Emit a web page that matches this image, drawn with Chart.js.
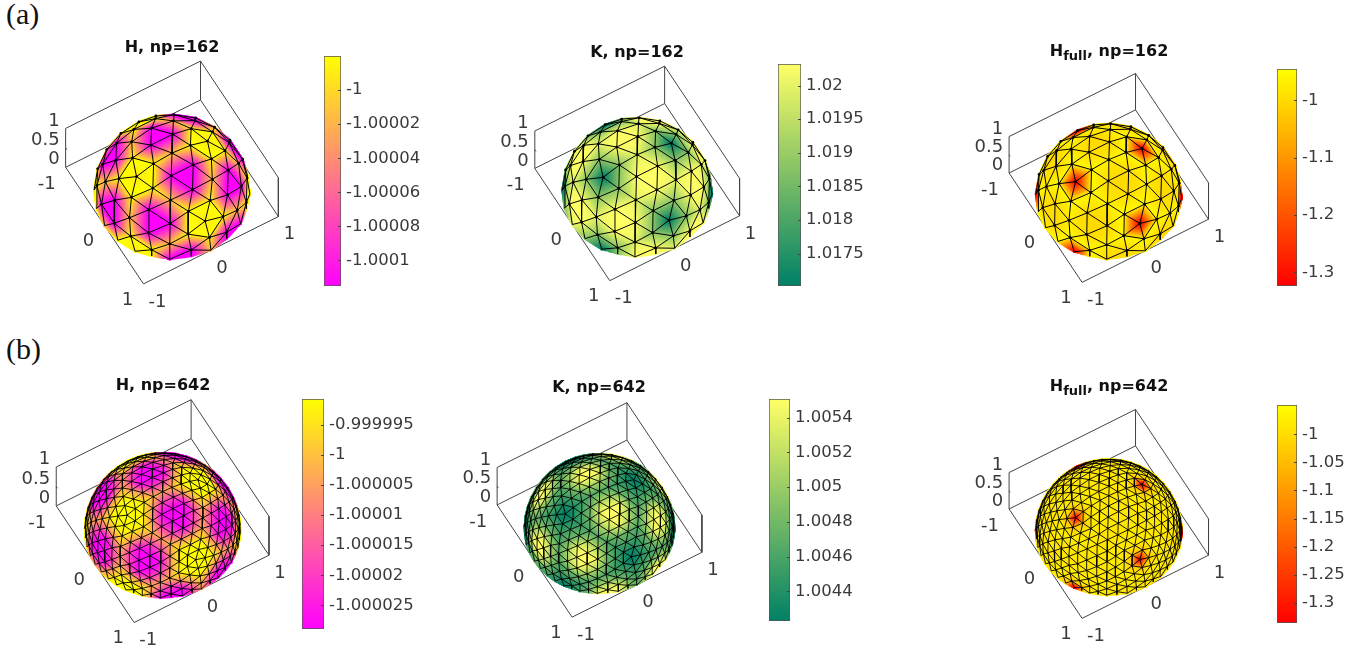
<!DOCTYPE html>
<html>
<head>
<meta charset="utf-8">
<script src="https://cdn.jsdelivr.net/npm/chart.js@4"></script>
<style>
html, body { margin: 0; padding: 0; background: #fff; }
body { position: relative; width: 1370px; height: 659px; overflow: hidden; }
canvas { position: absolute; }
.title { position: absolute; transform: translate(-50%, -50%); font: bold 16px "DejaVu Sans"; color: #111; white-space: nowrap; }
.title sub { font-size: 13px; line-height: 0; }
.tag { position: absolute; font: 30px "Liberation Serif"; color: #111; }
</style>
</head>
<body>
<div class="tag" style="left:6px;top:-3px">(a)</div>
<div class="tag" style="left:6px;top:332px">(b)</div>
<script>
// vertex classes of one icosahedron face, by sorted barycentric position
const classes162 = ['400', '310', '220', '211'];
const classes642 = ['800', '710', '620', '611', '530', '521', '440', '431', '422', '332'];

// values read at each vertex class
const valuesH162 = [-0.99999, -0.99998, -1.00001, -1.000115];
const valuesK162 = [1.01702, 1.0189, 1.02, 1.0203];
const valuesFull162 = [-1.324, -0.955, -0.975, -1.0];
const valuesH642 = [-0.99999, -0.99999, -0.999993, -0.999993, -1.0, -1.000006, -1.000004, -1.000018, -1.000027, -1.000029];
const valuesK642 = [1.00423, 1.0044, 1.00455, 1.0046, 1.00465, 1.0048, 1.0047, 1.0051, 1.0054, 1.0055];
const valuesFull642 = [-1.336, -1.03, -0.98, -0.98, -0.985, -0.98, -0.985, -0.985, -0.985, -0.985];

// colorbar limits and ticks
const rangeH162 = [-1.000115, -0.99998];
const rangeK162 = [1.01702, 1.02032];
const rangeFull162 = [-1.324, -0.945];
const rangeH642 = [-1.0000289, -0.99999075];
const rangeK642 = [1.004229, 1.005508];
const rangeFull642 = [-1.3362, -0.9477];

const ticksH162 = [-1, -1.00002, -1.00004, -1.00006, -1.00008, -1.0001];
const labelsH162 = ['-1', '-1.00002', '-1.00004', '-1.00006', '-1.00008', '-1.0001'];
const ticksK162 = [1.02, 1.0195, 1.019, 1.0185, 1.018, 1.0175];
const labelsK162 = ['1.02', '1.0195', '1.019', '1.0185', '1.018', '1.0175'];
const ticksFull162 = [-1, -1.1, -1.2, -1.3];
const labelsFull162 = ['-1', '-1.1', '-1.2', '-1.3'];
const ticksH642 = [-0.999995, -1, -1.000005, -1.00001, -1.000015, -1.00002, -1.000025];
const labelsH642 = ['-0.999995', '-1', '-1.000005', '-1.00001', '-1.000015', '-1.00002', '-1.000025'];
const ticksK642 = [1.0054, 1.0052, 1.005, 1.0048, 1.0046, 1.0044];
const labelsK642 = ['1.0054', '1.0052', '1.005', '1.0048', '1.0046', '1.0044'];
const ticksFull642 = [-1, -1.05, -1.1, -1.15, -1.2, -1.25, -1.3];
const labelsFull642 = ['-1', '-1.05', '-1.1', '-1.15', '-1.2', '-1.25', '-1.3'];

// axis ticks of the 3d box
const xyTicks = [-1, 0, 1];
const xyTickLabels = ['-1', '0', '1'];
const zTicks = [0, 0.5, 1];
const zTickLabels = ['0', '0.5', '1'];

// colormaps, low end then high end
const spring = [[255, 0, 255], [255, 255, 0]];
const summer = [[0, 128, 102], [255, 255, 102]];
const autumn = [[255, 0, 0], [255, 255, 0]];

// icosahedron
const icoVerts = [[-1,1.618,0],[1,1.618,0],[-1,-1.618,0],[1,-1.618,0],[0,-1,1.618],[0,1,1.618],[0,-1,-1.618],[0,1,-1.618],[1.618,0,-1],[1.618,0,1],[-1.618,0,-1],[-1.618,0,1]];
const icoFaces = [[0,11,5],[0,5,1],[0,1,7],[0,7,10],[0,10,11],[1,5,9],[5,11,4],[11,10,2],[10,7,6],[7,1,8],[3,9,4],[3,4,2],[3,2,6],[3,6,8],[3,8,9],[4,9,5],[2,4,11],[6,2,10],[8,6,7],[9,8,1]];

// view(60, 60)
const az = 60 * Math.PI / 180, el = 60 * Math.PI / 180;
const viewDir = [Math.sin(az) * Math.cos(el), -Math.cos(az) * Math.cos(el), Math.sin(el)];
const LEVELS = 64;

Chart.defaults.animation = false;
Chart.defaults.font.family = '"DejaVu Sans"';
Chart.defaults.responsive = false;

function project(p) {
  return {
    x: p[0] * Math.cos(az) + p[1] * Math.sin(az),
    y: -p[0] * Math.sin(az) * Math.sin(el) + p[1] * Math.cos(az) * Math.sin(el) + p[2] * Math.cos(el)
  };
}

function unit(p) {
  const n = Math.hypot(p[0], p[1], p[2]);
  return [p[0] / n, p[1] / n, p[2] / n];
}

function middle(a, b) {
  return {
    p: unit([a.p[0] + b.p[0], a.p[1] + b.p[1], a.p[2] + b.p[2]]),
    b: [(a.b[0] + b.b[0]) / 2, (a.b[1] + b.b[1]) / 2, (a.b[2] + b.b[2]) / 2]
  };
}

function meshFaces(depth) {
  const N = Math.pow(2, depth);
  let tris = icoFaces.map(f => [
    { p: unit(icoVerts[f[0]]), b: [N, 0, 0] },
    { p: unit(icoVerts[f[1]]), b: [0, N, 0] },
    { p: unit(icoVerts[f[2]]), b: [0, 0, N] }
  ]);
  for (let d = 0; d < depth; d++) {
    const next = [];
    tris.forEach(t => {
      const ab = middle(t[0], t[1]), bc = middle(t[1], t[2]), ca = middle(t[2], t[0]);
      next.push([t[0], ab, ca], [ab, t[1], bc], [ca, bc, t[2]], [ab, bc, ca]);
    });
    tris = next;
  }
  return tris;
}

function facesViewer(t) {
  const a = t[0].p, b = t[1].p, c = t[2].p;
  const u = [b[0] - a[0], b[1] - a[1], b[2] - a[2]], v = [c[0] - a[0], c[1] - a[1], c[2] - a[2]];
  const n = [u[1] * v[2] - u[2] * v[1], u[2] * v[0] - u[0] * v[2], u[0] * v[1] - u[1] * v[0]];
  const out = n[0] * (a[0] + b[0] + c[0]) + n[1] * (a[1] + b[1] + c[1]) + n[2] * (a[2] + b[2] + c[2]);
  const d = n[0] * viewDir[0] + n[1] * viewDir[1] + n[2] * viewDir[2];
  return out > 0 ? d > 0 : d < 0;
}

function levelColor(map, i) {
  const f = i / (LEVELS - 1);
  return 'rgb(' + [0, 1, 2].map(c => Math.round(map[0][c] + (map[1][c] - map[0][c]) * f)).join(',') + ')';
}

function sphereDatasets(cfg) {
  const tris = meshFaces(cfg.depth).filter(facesViewer);
  const lookup = {};
  cfg.classes.forEach((c, i) => { lookup[c] = cfg.values[i]; });
  const classOf = v => lookup[v.b.slice().sort((a, b) => b - a).join('')];
  const buckets = [];
  for (let i = 0; i < LEVELS; i++) buckets.push([]);
  const lines = [], dots = [], seen = {};
  const key = p => p.map(c => c.toFixed(4)).join(',');

  tris.forEach(t => {
    const va = classOf(t[0]), vb = classOf(t[1]), vc = classOf(t[2]);
    const edge = Math.max(
      Math.hypot(t[0].p[0] - t[1].p[0], t[0].p[1] - t[1].p[1], t[0].p[2] - t[1].p[2]),
      Math.hypot(t[1].p[0] - t[2].p[0], t[1].p[1] - t[2].p[1], t[1].p[2] - t[2].p[2]),
      Math.hypot(t[2].p[0] - t[0].p[0], t[2].p[1] - t[0].p[1], t[2].p[2] - t[0].p[2]));
    const n = Math.ceil(edge * cfg.s / 1.5);
    for (let i = 0; i <= n; i++) {
      for (let j = 0; j <= n - i; j++) {
        const a = i / n, b = j / n, c = 1 - a - b;
        const p = [0, 1, 2].map(k => a * t[0].p[k] + b * t[1].p[k] + c * t[2].p[k]);
        if (p[2] < 0) continue;
        const v = a * va + b * vb + c * vc;
        const lv = Math.max(0, Math.min(LEVELS - 1, Math.floor((v - cfg.range[0]) / (cfg.range[1] - cfg.range[0]) * LEVELS)));
        buckets[lv].push(project(p));
      }
    }
    [[0, 1], [1, 2], [2, 0]].forEach(e => {
      let a = t[e[0]].p, b = t[e[1]].p;
      const id = [key(a), key(b)].sort().join('|');
      // edges lying on the z=0 floor are not drawn in the picture
      if (seen[id] || Math.max(a[2], b[2]) < 1e-6) return;
      seen[id] = true;
      if (a[2] < 0 || b[2] < 0) {
        if (a[2] < 0) { const s = a; a = b; b = s; }
        const f = a[2] / (a[2] - b[2]);
        b = [a[0] + (b[0] - a[0]) * f, a[1] + (b[1] - a[1]) * f, 0];
      }
      lines.push(project(a), project(b), { x: null, y: null });
    });
    t.forEach(v => {
      if (v.p[2] > 1e-6 && !seen[key(v.p)]) { seen[key(v.p)] = true; dots.push(project(v.p)); }
    });
  });

  const sets = [];
  sets.push({ data: lines, showLine: true, borderColor: '#000', borderWidth: cfg.depth === 2 ? 1 : 0.9, pointRadius: 0, order: 0 });
  sets.push({ data: dots, showLine: false, backgroundColor: '#000', borderWidth: 0, pointRadius: cfg.depth === 2 ? 1.4 : 0.8, order: 0 });
  buckets.forEach((pts, i) => {
    if (!pts.length) return;
    sets.push({ data: pts, parsing: false, normalized: true, showLine: false, pointStyle: 'rect', pointRadius: 1.4, borderWidth: 0, backgroundColor: levelColor(cfg.map, i), order: 1 });
  });
  // back walls and floor of the box
  const corner = (x, y, z) => project([x, y, z]);
  const box = [
    corner(-1, -1, 0), corner(1, -1, 0), corner(1, 1, 0), corner(-1, 1, 0), corner(-1, -1, 0), corner(-1, -1, 1), corner(-1, 1, 1), corner(1, 1, 1), corner(1, 1, 0), { x: null, y: null },
    corner(-1, 1, 0), corner(-1, 1, 1), { x: null, y: null },
    corner(0, -1, 0), corner(0, -1, 0.04), { x: null, y: null },
    corner(1, 0, 0), corner(1, 0, 0.04), { x: null, y: null },
    corner(-1, -1, 0.5), corner(-0.97, -1, 0.5)
  ];
  sets.push({ data: box, showLine: true, borderColor: '#444', borderWidth: 1, pointRadius: 0, order: 2 });
  return sets;
}

// tick labels of the 3d axes, placed from the chart's scales
const boxLabels = {
  id: 'boxLabels',
  afterDatasetsDraw(chart) {
    const ctx = chart.ctx, sx = chart.scales.x, sy = chart.scales.y;
    const put = (text, p, dx, dy, align) => {
      const q = project(p);
      ctx.textAlign = align;
      ctx.fillText(text, sx.getPixelForValue(q.x) + dx, sy.getPixelForValue(q.y) + dy);
    };
    ctx.save();
    ctx.font = '18px "DejaVu Sans"';
    ctx.fillStyle = '#3a3a3a';
    ctx.textBaseline = 'middle';
    xyTicks.forEach((v, i) => {
      put(xyTickLabels[i], [v, -1, 0], v === -1 ? -19 : -16, v === -1 ? 17 : 16, 'center');
      put(xyTickLabels[i], [1, v, 0], v === -1 ? 14 : 11, 18, 'center');
    });
    zTicks.forEach((v, i) => {
      put(zTickLabels[i], [-1, -1, v], -6, -7.5, 'right');
    });
    ctx.restore();
  }
};

// small inward ticks on the colorbar
const barTicks = {
  id: 'barTicks',
  afterDatasetsDraw(chart) {
    const ctx = chart.ctx, s = chart.scales.y, right = chart.chartArea.right;
    ctx.save();
    ctx.strokeStyle = '#444';
    s.ticks.forEach(t => {
      const y = Math.round(s.getPixelForValue(t.value)) + 0.5;
      ctx.beginPath();
      ctx.moveTo(right - 3, y);
      ctx.lineTo(right, y);
      ctx.stroke();
    });
    ctx.restore();
  }
};

function addCanvas(left, top, w, h) {
  const c = document.createElement('canvas');
  c.width = w;
  c.height = h;
  c.style.left = left + 'px';
  c.style.top = top + 'px';
  document.body.appendChild(c);
  return c;
}

function drawSphere(cfg) {
  const left = Math.round(cfg.cx - 150), top = Math.round(cfg.cy - 145), w = 300, h = 285;
  new Chart(addCanvas(left, top, w, h), {
    type: 'scatter',
    data: { datasets: sphereDatasets(cfg) },
    options: {
      layout: { padding: 0 },
      plugins: { legend: { display: false }, tooltip: { enabled: false } },
      events: [],
      scales: {
        x: { type: 'linear', display: false, min: (left - cfg.cx) / cfg.s, max: (left + w - cfg.cx) / cfg.s },
        y: { type: 'linear', display: false, min: (cfg.cy - top - h) / cfg.s, max: (cfg.cy - top) / cfg.s }
      }
    },
    plugins: [boxLabels]
  });
}

function drawBar(cfg) {
  const pad = 12, textW = 100;
  const barW = cfg.bar[1] - cfg.bar[0], barH = cfg.bar[3] - cfg.bar[2];
  new Chart(addCanvas(cfg.bar[0], cfg.bar[2] - pad, barW + textW, barH + pad * 2), {
    type: 'bar',
    data: {
      labels: [''],
      datasets: [{
        data: [[cfg.range[0], cfg.range[1]]],
        barPercentage: 1,
        categoryPercentage: 1,
        borderColor: '#555',
        borderWidth: 1,
        borderSkipped: false,
        backgroundColor(ctx) {
          const a = ctx.chart.chartArea;
          if (!a) return levelColor(cfg.map, 0);
          const g = ctx.chart.ctx.createLinearGradient(0, a.bottom, 0, a.top);
          g.addColorStop(0, levelColor(cfg.map, 0));
          g.addColorStop(1, levelColor(cfg.map, LEVELS - 1));
          return g;
        }
      }]
    },
    options: {
      layout: { padding: { top: pad, bottom: pad } },
      plugins: { legend: { display: false }, tooltip: { enabled: false } },
      events: [],
      scales: {
        x: { display: false },
        y: {
          position: 'right',
          min: cfg.range[0],
          max: cfg.range[1],
          grid: { display: false, drawTicks: false },
          border: { display: false },
          afterBuildTicks(s) { s.ticks = cfg.ticks.map(v => ({ value: v })); },
          afterFit(s) { s.width = textW; s.paddingTop = 0; s.paddingBottom = 0; },
          ticks: {
            autoSkip: false,
            padding: 5,
            color: '#3a3a3a',
            font: { size: 16.5 },
            callback(value, i) { return cfg.labels[i]; }
          }
        }
      }
    },
    plugins: [barTicks]
  });
}

function addTitle(cfg) {
  const d = document.createElement('div');
  d.className = 'title';
  d.style.left = cfg.tx + 'px';
  d.style.top = cfg.ty + 'px';
  d.innerHTML = cfg.title;
  document.body.appendChild(d);
}

const panels = [
  { title: 'H, np=162', tx: 172, ty: 46, cx: 172, cy: 192, s: 80, bar: [324, 341, 56, 286], depth: 2, classes: classes162, values: valuesH162, range: rangeH162, ticks: ticksH162, labels: labelsH162, map: spring },
  { title: 'K, np=162', tx: 637, ty: 51, cx: 637.2, cy: 192.2, s: 77, bar: [778, 801, 64, 286], depth: 2, classes: classes162, values: valuesK162, range: rangeK162, ticks: ticksK162, labels: labelsK162, map: summer },
  { title: 'H<sub>full</sub>, np=162', tx: 1109, ty: 50, cx: 1108.8, cy: 196.2, s: 75, bar: [1277, 1297, 69, 286], depth: 2, classes: classes162, values: valuesFull162, range: rangeFull162, ticks: ticksFull162, labels: labelsFull162, map: autumn },
  { title: 'H, np=642', tx: 163, ty: 384, cx: 162.6, cy: 530.6, s: 80, bar: [302, 324, 399, 629], depth: 3, classes: classes642, values: valuesH642, range: rangeH642, ticks: ticksH642, labels: labelsH642, map: spring },
  { title: 'K, np=642', tx: 599, ty: 386, cx: 599.5, cy: 528.7, s: 77, bar: [769, 790, 399, 621], depth: 3, classes: classes642, values: valuesK642, range: rangeK642, ticks: ticksK642, labels: labelsK642, map: summer },
  { title: 'H<sub>full</sub>, np=642', tx: 1109, ty: 385, cx: 1108.8, cy: 532.2, s: 75, bar: [1277, 1297, 405, 623], depth: 3, classes: classes642, values: valuesFull642, range: rangeFull642, ticks: ticksFull642, labels: labelsFull642, map: autumn }
];

panels.forEach(p => {
  drawSphere(p);
  drawBar(p);
  addTitle(p);
});
</script>
</body>
</html>
